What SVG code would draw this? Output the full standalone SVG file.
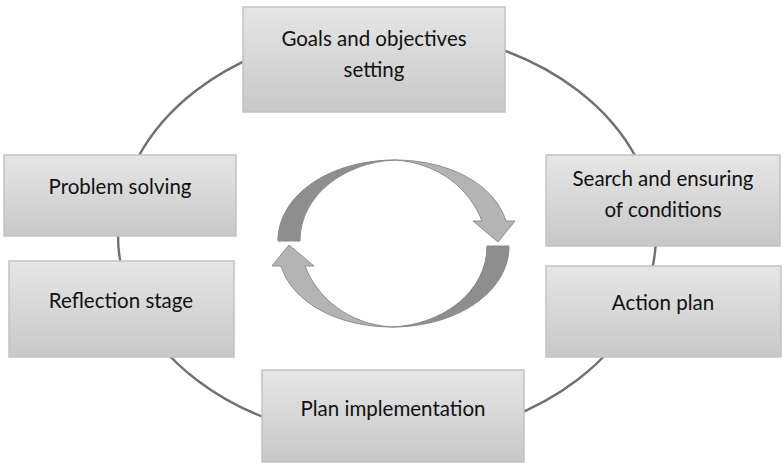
<svg xmlns="http://www.w3.org/2000/svg" width="783" height="466" viewBox="0 0 783 466">
<defs>
<linearGradient id="g" x1="0" y1="0" x2="0" y2="1">
<stop offset="0" stop-color="#e6e6e6"/>
<stop offset="1" stop-color="#c8c8c8"/>
</linearGradient>
<g id="arrow">
<path class="dark" d="M278,241 C278,195 330,160 395,160 C345,162 300,195 300,241 Z"/>
<path class="light" d="M395,160 C450,160 495,185 506,221 L515,221 L498,242 L473,221 L482,221 C470,190 440,163 395,160 Z"/>
</g>
</defs>
<style>
.box{fill:url(#g);stroke:#c2c2c2;stroke-width:1.5}
.lbl{font-family:Lato,"Open Sans","Liberation Sans",sans-serif;font-size:20.5px;fill:#111;text-anchor:middle}
.ring{fill:none;stroke:#707070;stroke-width:2.4}
.dark{fill:#8e8e8e;stroke:#888;stroke-width:1}
.light{fill:#b4b4b4;stroke:#8e8e8e;stroke-width:1}
</style>
<rect width="783" height="466" fill="#fff"/>
<g id="connectors">
<ellipse class="ring" cx="387" cy="235" rx="269" ry="205"/>
</g>
<g id="cycle-arrows">
<use href="#arrow"/>
<use href="#arrow" transform="rotate(180 393.5 243.5)"/>
</g>
<g id="goals">
<rect class="box" x="243" y="7" width="262" height="105"/>
<text class="lbl" x="374" y="46">Goals and objectives</text>
<text class="lbl" x="374" y="77">setting</text>
</g>
<g id="problem">
<rect class="box" x="4" y="155" width="232" height="81"/>
<text class="lbl" x="120" y="194">Problem solving</text>
</g>
<g id="reflection">
<rect class="box" x="9" y="261" width="225" height="96"/>
<text class="lbl" x="121" y="308">Reflection stage</text>
</g>
<g id="search">
<rect class="box" x="546" y="155" width="234" height="91"/>
<text class="lbl" x="663" y="186">Search and ensuring</text>
<text class="lbl" x="663" y="217">of conditions</text>
</g>
<g id="action">
<rect class="box" x="546" y="266" width="235" height="91"/>
<text class="lbl" x="663" y="310">Action plan</text>
</g>
<g id="implementation">
<rect class="box" x="262" y="370" width="262" height="92"/>
<text class="lbl" x="393" y="416">Plan implementation</text>
</g>
</svg>
